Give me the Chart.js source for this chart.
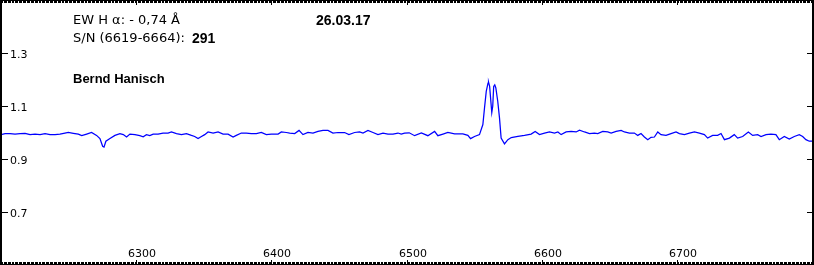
<!DOCTYPE html>
<html>
<head>
<meta charset="utf-8">
<script src="https://cdn.jsdelivr.net/npm/chart.js@4.4.1/dist/chart.umd.min.js"></script>
<style>
  body { margin: 0; background: #fff; }
  #wrap { position: relative; width: 814px; height: 265px; }
  #spec { position: absolute; left: 0; top: 0; }
  .txt { position: absolute; white-space: pre; line-height: 15px; color: #000; }
  .reg { font: 13px "DejaVu Sans", sans-serif; }
  .bold { font: bold 14px "Liberation Sans", Arial, sans-serif; }
  .name { font: bold 13px "Liberation Sans", Arial, sans-serif; }
</style>
</head>
<body>
<div id="wrap">
  <canvas id="spec" width="814" height="265"></canvas>
  <div class="txt reg" style="left:73px; top:12px;">EW H α: - 0,74 Å</div>
  <div class="txt bold" style="left:316px; top:12px;">26.03.17</div>
  <div class="txt reg" style="left:73px; top:30px;">S/N (6619-6664):</div>
  <div class="txt bold" style="left:192px; top:30px;">291</div>
  <div class="txt name" style="left:73px; top:71px;">Bernd Hanisch</div>
</div>
<script>
const xTicks = [6300, 6400, 6500, 6600, 6700];
const yTicks = [0.7, 0.9, 1.1, 1.3];

// wavelength (Angstrom) and normalised flux
const waves = [
  6200, 6203, 6206.7, 6210.4, 6214.1, 6217.8, 6221.5, 6225.2, 6228.9, 6232.6,
  6236.3, 6240, 6243.6, 6247.3, 6249.8, 6253.5, 6257.2, 6259.7, 6263.4, 6267,
  6270.7, 6273.2, 6275.2, 6276.2, 6277.6, 6280.6, 6284.3, 6288, 6290.5, 6292.9,
  6295.4, 6299.1, 6302.7, 6305.2, 6307.6, 6310.1, 6312.6, 6316.2, 6319.9, 6323.6,
  6326.1, 6329.8, 6333.5, 6337.2, 6340.9, 6343.3, 6345.8, 6348.3, 6350.7, 6353.2,
  6356.9, 6360.6, 6364.3, 6368, 6371.7, 6374.1, 6377.8, 6381.5, 6385.2, 6388.9,
  6392.6, 6396.3, 6400, 6405, 6407.4, 6411.1, 6413.6, 6417.3, 6420.5, 6423.4,
  6427.1, 6430.8, 6434.5, 6438.2, 6441.9, 6445.6, 6449.3, 6454.2, 6457.4, 6461.6,
  6465.3, 6467.8, 6471.5, 6475.2, 6478.9, 6482.6, 6486.3, 6490, 6493.7, 6496.1,
  6498.6, 6502, 6506, 6511, 6515.8, 6520.8, 6523.2, 6527, 6530.6, 6535.6,
  6541.7, 6545.4, 6547.4, 6550.3, 6554, 6556.5, 6557.7, 6559, 6560.3, 6560.7,
  6561.5, 6563.1, 6563.8, 6564.5, 6565.3, 6566.1, 6567.5, 6568.8, 6570, 6572.5,
  6575, 6577.5, 6582.4, 6587.3, 6592.2, 6595.2, 6598.4, 6602.1, 6605.8, 6609.5,
  6612, 6614.4, 6618.1, 6621.8, 6625.5, 6628, 6631.7, 6635.4, 6639, 6641.5,
  6645.2, 6648.9, 6651.4, 6655.1, 6658.8, 6661.2, 6664.9, 6668.6, 6671.1, 6673.5,
  6676, 6678.5, 6680.9, 6683.4, 6685.9, 6688.3, 6692, 6695.7, 6699.4, 6701.9,
  6705.6, 6709.3, 6713, 6716.7, 6720.4, 6722.8, 6726.5, 6730.2, 6732.7, 6735.2,
  6738.9, 6742.5, 6745, 6748.7, 6752.9, 6756.1, 6759.8, 6762.3, 6766, 6769.6,
  6773.3, 6775.8, 6779.5, 6783.2, 6786.9, 6790.6, 6793.1, 6795.5, 6798, 6800
];
const flux = [
  0.992, 0.996, 0.996, 0.994, 0.996, 0.997, 0.992, 0.994, 0.992, 0.996,
  0.992, 0.992, 0.994, 0.998, 1.000, 0.997, 0.994, 0.988, 0.994, 1.000,
  0.989, 0.977, 0.948, 0.945, 0.967, 0.977, 0.989, 0.996, 0.992, 0.983,
  0.994, 0.992, 0.988, 0.984, 0.992, 0.988, 0.994, 0.994, 0.998, 0.998,
  1.002, 0.996, 0.992, 0.996, 0.989, 0.985, 0.977, 0.985, 0.992, 1.002,
  0.998, 1.002, 0.994, 0.994, 0.983, 0.989, 0.998, 0.998, 0.996, 0.996,
  1.000, 0.992, 0.994, 0.994, 1.002, 1.000, 0.998, 0.996, 1.008, 0.992,
  1.000, 0.998, 1.004, 1.008, 1.008, 0.998, 1.000, 1.000, 0.992, 1.000,
  1.002, 0.998, 1.008, 1.000, 0.992, 0.998, 0.994, 0.994, 0.998, 0.994,
  0.998, 0.999, 0.988, 0.998, 0.988, 1.004, 0.988, 0.994, 1.000, 0.995,
  0.995, 0.989, 0.977, 0.985, 0.992, 1.030, 1.092, 1.155, 1.186, 1.190,
  1.174, 1.075, 1.099, 1.174, 1.180, 1.168, 1.118, 1.055, 0.979, 0.957,
  0.973, 0.981, 0.985, 0.989, 0.994, 1.004, 0.992, 0.998, 1.002, 0.998,
  1.002, 0.992, 1.002, 1.004, 1.002, 1.009, 1.002, 0.996, 0.998, 0.996,
  1.004, 1.002, 0.998, 1.004, 1.008, 1.002, 0.998, 0.998, 0.989, 0.996,
  0.983, 0.973, 0.982, 0.983, 1.002, 0.992, 0.989, 0.996, 1.002, 0.996,
  0.992, 0.998, 1.002, 0.998, 0.992, 0.979, 0.989, 0.989, 0.996, 0.973,
  0.979, 0.992, 0.979, 0.985, 1.002, 0.989, 0.992, 0.985, 0.992, 0.994,
  0.992, 0.973, 0.985, 0.975, 0.985, 0.992, 0.985, 0.973, 0.967, 0.967
];

const frame = {
  id: 'frame',
  afterDraw(chart) {
    const ctx = chart.ctx;
    const x = chart.scales.x;
    const y = chart.scales.y;
    ctx.save();
    ctx.fillStyle = '#000';
    ctx.fillRect(0, 0, 814, 1);
    ctx.fillRect(0, 264, 814, 1);
    ctx.fillRect(0, 0, 2, 265);
    ctx.fillRect(812, 0, 2, 265);

    // minor ticks every 1 A on top and bottom
    for (let w = x.min; w <= x.max; w++) {
      const px = Math.round(x.getPixelForValue(w));
      ctx.fillRect(px, 1, 1, 2);
      ctx.fillRect(px, 262, 1, 2);
    }

    ctx.font = '11px "DejaVu Sans", sans-serif';
    ctx.textBaseline = 'alphabetic';
    ctx.textAlign = 'center';
    x.ticks.forEach(t => {
      const px = Math.round(x.getPixelForValue(t.value));
      ctx.fillRect(px, 0, 1, 5);
      ctx.fillRect(px, 260, 1, 5);
      ctx.fillText(String(t.value), px + 6, 257);
    });

    ctx.textAlign = 'left';
    y.ticks.forEach(t => {
      const py = Math.round(y.getPixelForValue(t.value));
      ctx.fillRect(0, py, 8, 1);
      ctx.fillRect(807, py, 7, 1);
      ctx.fillText(t.value.toFixed(1), 10, py + 5);
    });
    ctx.restore();
  }
};

new Chart(document.getElementById('spec'), {
  type: 'line',
  data: {
    datasets: [{
      data: waves.map((w, i) => ({ x: w, y: flux[i] })),
      borderColor: '#0000ff',
      borderWidth: 1.25,
      pointRadius: 0,
      tension: 0,
      fill: false
    }]
  },
  options: {
    responsive: false,
    animation: false,
    devicePixelRatio: 1,
    layout: { padding: { left: 1, right: 2, top: 0, bottom: 0 } },
    plugins: { legend: { display: false }, tooltip: { enabled: false } },
    scales: {
      x: {
        type: 'linear', min: 6200, max: 6800, display: false,
        afterBuildTicks: s => { s.ticks = xTicks.map(v => ({ value: v })); }
      },
      y: {
        type: 'linear', min: 0.5, max: 1.5, display: false,
        afterBuildTicks: s => { s.ticks = yTicks.map(v => ({ value: v })); }
      }
    }
  },
  plugins: [frame]
});
</script>
</body>
</html>
